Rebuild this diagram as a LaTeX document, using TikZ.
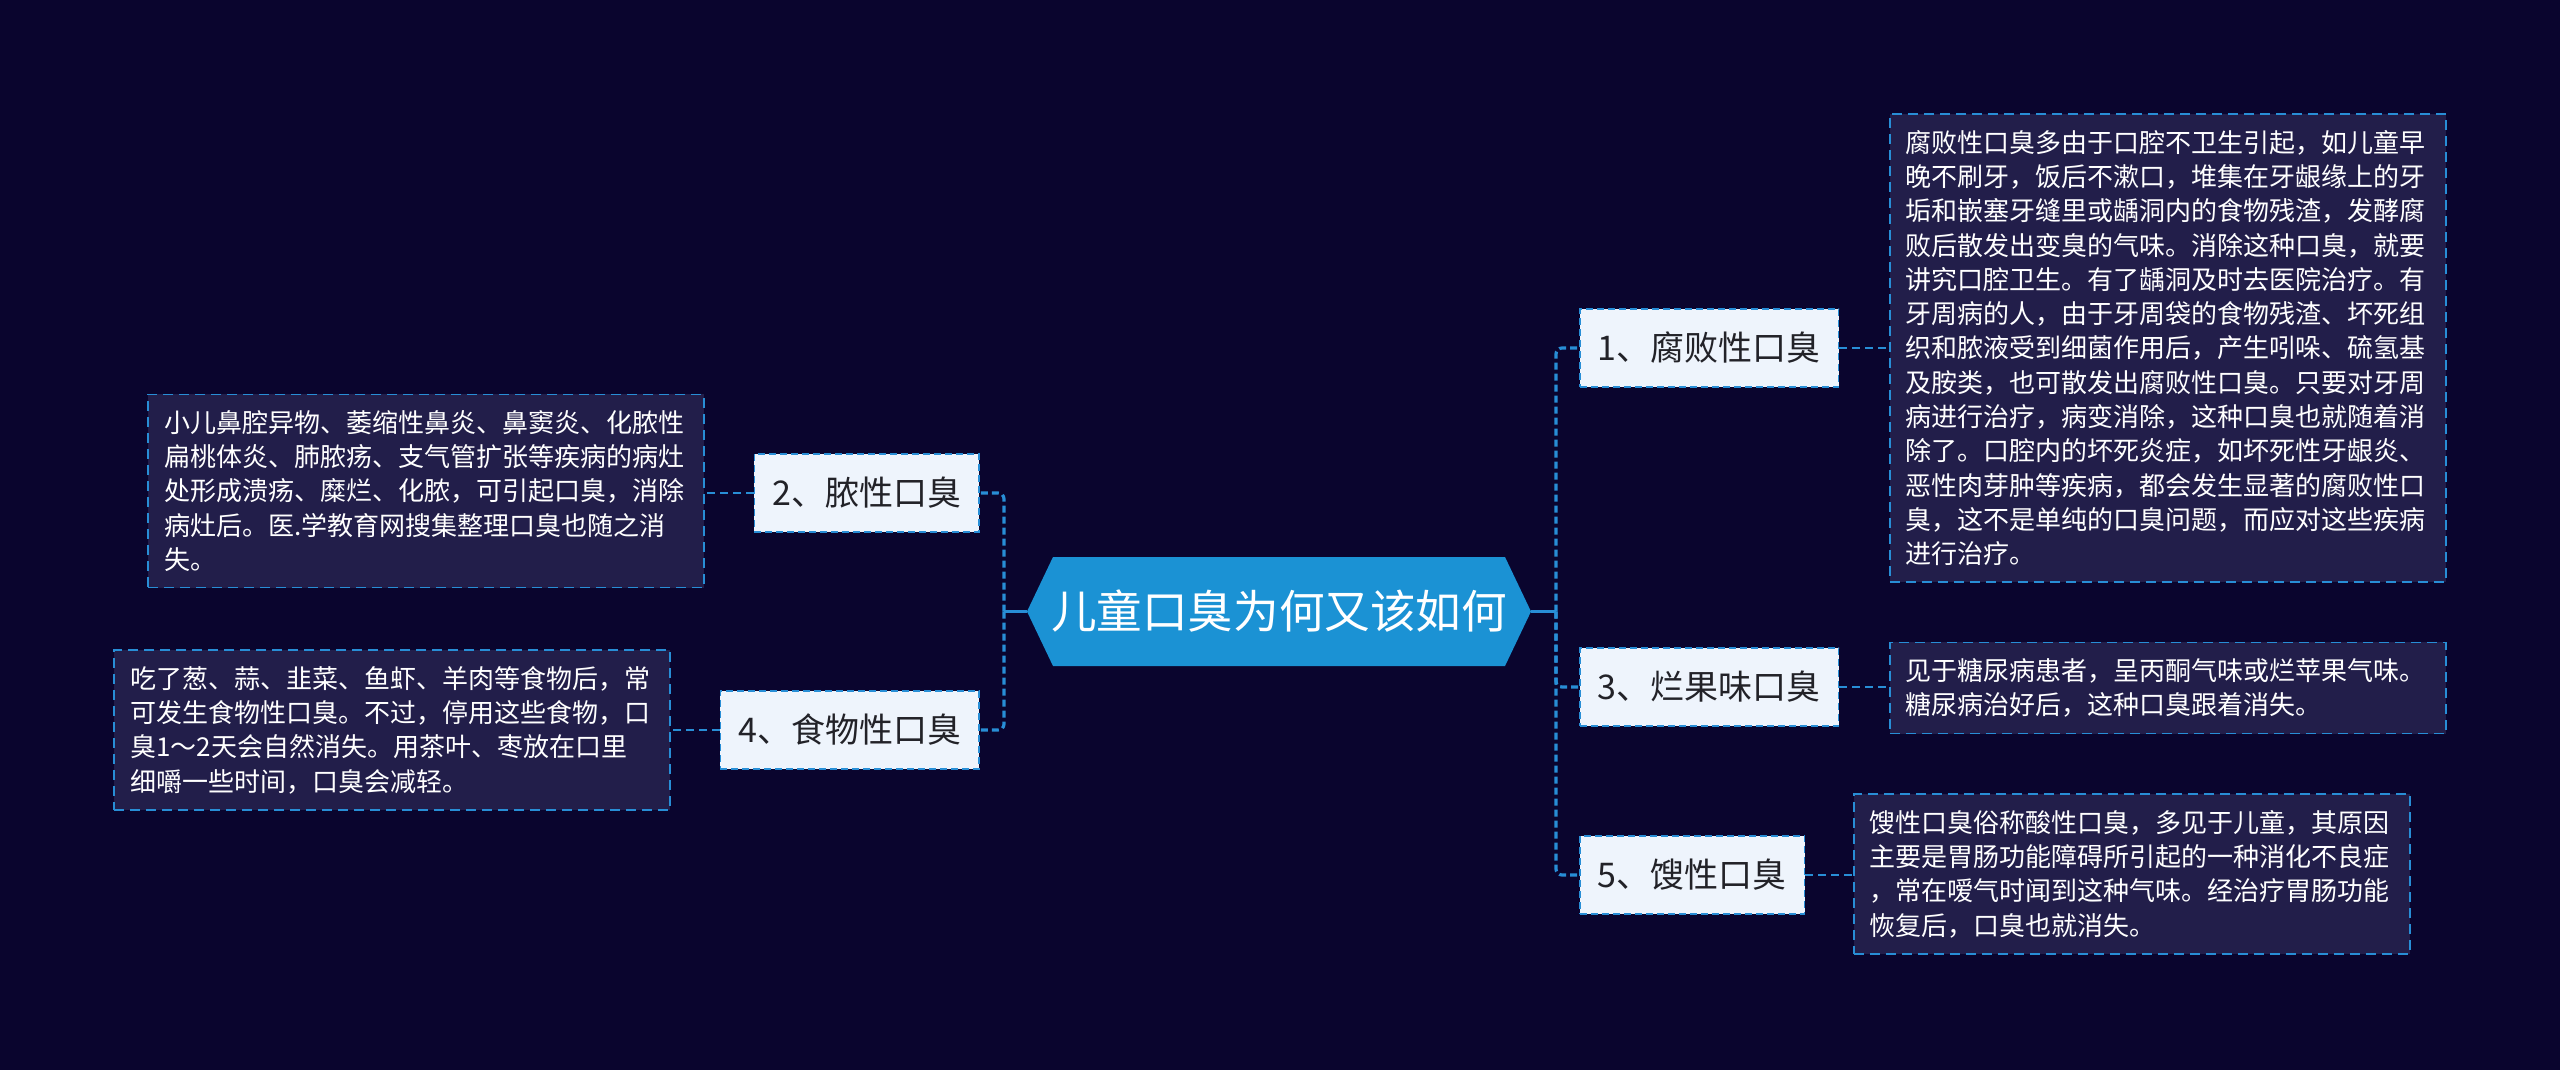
\documentclass[tikz,border=0pt]{standalone}
\usepackage{fontspec}
\setmainfont{Noto Sans CJK SC}
\definecolor{bg}{RGB}{10,5,46}
\definecolor{lineblue}{RGB}{40,142,214}
\definecolor{rootblue}{RGB}{27,146,212}
\definecolor{branchfill}{RGB}{238,244,252}
\definecolor{branchtext}{RGB}{34,34,40}
\definecolor{detailfill}{RGB}{34,30,74}
\begin{document}
\begin{tikzpicture}[x=0.5pt,y=-0.5pt,
  branch/.style={draw=lineblue, dash pattern=on 3.5pt off 2pt, line width=0.8pt,
    fill=branchfill, text=branchtext, font=\fontsize{17}{20}\selectfont,
    inner xsep=9pt, minimum height=39pt},
  detail/.style={draw=lineblue, dash pattern=on 5pt off 3pt, line width=0.85pt,
    fill=detailfill, text=white, font=\fontsize{13}{17.15}\selectfont,
    text width=262pt, align=left, inner xsep=8pt, inner ysep=8pt},
  roottext/.style={text=white, font=\fontsize{22.8}{28}\selectfont,
    minimum width=252pt, minimum height=54.5pt, inner sep=0pt},
  trunksolid/.style={draw=lineblue, line width=1.6pt},
  trunkdash/.style={draw=lineblue, line width=1.6pt, dash pattern=on 3.5pt off 2pt, rounded corners=3pt},
  linkdash/.style={draw=lineblue, line width=1.1pt, dash pattern=on 4pt off 2.5pt}
]
\fill[bg] (0,0) rectangle (2560,1070);
\useasboundingbox (0,0) rectangle (2560,1070);

% root hexagon
\fill[rootblue] (1027,611.5) -- (1053,557) -- (1505,557) -- (1531,611.5) -- (1505,666) -- (1053,666) -- cycle;
\node[roottext] (root) at (1279,611.5) {儿童口臭为何又该如何};

% branch nodes
\node[branch, anchor=west] (n1) at (1579,348) {1、腐败性口臭};
\node[branch, anchor=west] (n3) at (1579,687) {3、烂果味口臭};
\node[branch, anchor=west] (n5) at (1579,875) {5、馊性口臭};
\node[branch, anchor=east] (n2) at (980,493) {2、脓性口臭};
\node[branch, anchor=east] (n4) at (980,730) {4、食物性口臭};

% detail nodes
\node[detail, anchor=west] (d1) at (1889,348) {腐败性口臭多由于口腔不卫生引起，如儿童早\\
晚不刷牙，饭后不漱口，堆集在牙龈缘上的牙\\
垢和嵌塞牙缝里或龋洞内的食物残渣，发酵腐\\
败后散发出变臭的气味。消除这种口臭，就要\\
讲究口腔卫生。有了龋洞及时去医院治疗。有\\
牙周病的人，由于牙周袋的食物残渣、坏死组\\
织和脓液受到细菌作用后，产生吲哚、硫氢基\\
及胺类，也可散发出腐败性口臭。只要对牙周\\
病进行治疗，病变消除，这种口臭也就随着消\\
除了。口腔内的坏死炎症，如坏死性牙龈炎、\\
恶性肉芽肿等疾病，都会发生显著的腐败性口\\
臭，这不是单纯的口臭问题，而应对这些疾病\\
进行治疗。};
\node[detail, anchor=west] (d3) at (1889,688) {见于糖尿病患者，呈丙酮气味或烂苹果气味。\\
糖尿病治好后，这种口臭跟着消失。};
\node[detail, anchor=west] (d5) at (1853,874) {馊性口臭俗称酸性口臭，多见于儿童，其原因\\
主要是胃肠功能障碍所引起的一种消化不良症\\
，常在嗳气时闻到这种气味。经治疗胃肠功能\\
恢复后，口臭也就消失。};
\node[detail, anchor=east] (d2) at (705,491) {小儿鼻腔异物、萎缩性鼻炎、鼻窦炎、化脓性\\
扁桃体炎、肺脓疡、支气管扩张等疾病的病灶\\
处形成溃疡、糜烂、化脓，可引起口臭，消除\\
病灶后。医.学教育网搜集整理口臭也随之消\\
失。};
\node[detail, anchor=east] (d4) at (671,730) {吃了葱、蒜、韭菜、鱼虾、羊肉等食物后，常\\
可发生食物性口臭。不过，停用这些食物，口\\
臭1～2天会自然消失。用茶叶、枣放在口里\\
细嚼一些时间，口臭会减轻。};

% trunks
\coordinate (rt) at (1556,611.5);
\coordinate (lt) at (1004,611.5);
\draw[trunksolid] (root.east) -- (rt);
\draw[trunksolid] (root.west) -- (lt);
\draw[trunkdash] (rt) |- (n1.west);
\draw[trunkdash] (rt) |- (n3.west);
\draw[trunkdash] (rt) |- (n5.west);
\draw[trunkdash] (lt) |- (n2.east);
\draw[trunkdash] (lt) |- (n4.east);

% links to details
\draw[linkdash] (n1.east) -- (n1.east -| d1.west);
\draw[linkdash] (n3.east) -- (n3.east -| d3.west);
\draw[linkdash] (n5.east) -- (n5.east -| d5.west);
\draw[linkdash] (n2.west) -- (n2.west -| d2.east);
\draw[linkdash] (n4.west) -- (n4.west -| d4.east);
\end{tikzpicture}
\end{document}
